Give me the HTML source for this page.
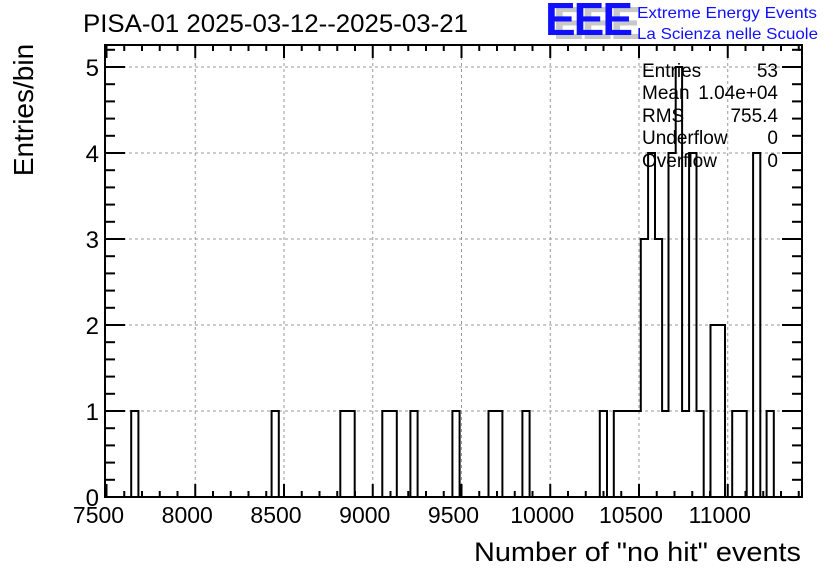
<!DOCTYPE html>
<html><head><meta charset="utf-8"><style>
html,body{margin:0;padding:0;background:#fff;}
svg{display:block;font-family:"Liberation Sans",Arial,sans-serif;}
</style></head><body>
<svg id="chart" width="836" height="572" viewBox="0 0 836 572" xmlns="http://www.w3.org/2000/svg">
<rect x="0" y="0" width="836" height="572" fill="#fff"/>
<g id="grid"></g>
<g id="hist"></g>
<g id="axes"></g>
<text x="83" y="32" font-size="25" fill="#000" textLength="385" lengthAdjust="spacingAndGlyphs">PISA-01 2025-03-12--2025-03-21</text>
<text transform="translate(33,110) rotate(-90)" text-anchor="middle" font-size="28">Entries/bin</text>
<text x="801" y="561" text-anchor="end" font-size="27" textLength="327" lengthAdjust="spacingAndGlyphs">Number of "no hit" events</text>
<g>
<text x="553" y="39" font-size="46" font-weight="bold" fill="#c8c8c8" letter-spacing="-2">EEE</text>
<text x="545" y="35" font-size="46" font-weight="bold" fill="#1010ff" letter-spacing="-2">EEE</text>
<text x="637" y="18" font-size="16" fill="#1010ff" textLength="180" lengthAdjust="spacingAndGlyphs">Extreme Energy Events</text>
<text x="637" y="39" font-size="16" fill="#1010ff" textLength="181" lengthAdjust="spacingAndGlyphs">La Scienza nelle Scuole</text>
</g>
<g font-size="19" fill="#000">
<text x="642" y="77">Entries</text><text x="778" y="77" text-anchor="end">53</text>
<text x="642" y="99">Mean</text><text x="778" y="99" text-anchor="end">1.04e+04</text>
<text x="642" y="122">RMS</text><text x="778" y="122" text-anchor="end">755.4</text>
<text x="642" y="144">Underflow</text><text x="778" y="144" text-anchor="end">0</text>
<text x="642" y="167">Overflow</text><text x="778" y="167" text-anchor="end">0</text>
</g>
</svg>
<script>
const binLow = [7639,8430,8817,8858,9054,9095,9212,9449,9652,9690,9843,10279,10358,10395,10433,10470,10510,10551,10590,10630,10666,10707,10743,10782,10824,10903,10944,11025,11066,11143,11219];
const binCounts = [1,1,1,1,1,1,1,1,1,1,1,1,1,1,1,1,3,4,3,1,4,5,1,4,1,2,2,1,1,4,1];
const binWidth = 40.5;
const xTicks = [7500,8000,8500,9000,9500,10000,10500,11000];
const yTicks = [0,1,2,3,4,5];

const L=105,R=802,T=45,B=497;
const X0=7500, PX=0.1775;
function sx(v){return 106.5+(v-X0)*PX;}
function sy(v){return 497-v*86;}
const xMax=X0+(R-106.5)/PX;
const NS="http://www.w3.org/2000/svg";
function mk(tag,attrs,parent){const e=document.createElementNS(NS,tag);for(const k in attrs)e.setAttribute(k,attrs[k]);parent.appendChild(e);return e;}
const grid=document.getElementById('grid'),hist=document.getElementById('hist'),axes=document.getElementById('axes');
xTicks.forEach(t=>{if(t<=X0)return;
 const g=mk('line',{x1:sx(t),x2:sx(t),y1:T,y2:B,stroke:'#999','stroke-dasharray':'3,3','stroke-width':1},grid);
 
 });
yTicks.forEach(t=>{if(t===0)return;
 const g=mk('line',{x1:L,x2:R,y1:sy(t),y2:sy(t),stroke:'#999','stroke-dasharray':'3,3','stroke-width':1},grid);
 
 });
// histogram step outline
let d='M'+L+','+sy(0);
let prevHi=null;
binLow.forEach((lo,i)=>{
 const next=binLow[i+1];
 const hi=(next!==undefined && next-lo<binWidth*1.5)?next:lo+binWidth;
 const y=sy(binCounts[i]);
 const adjacent=(prevHi!==null && Math.abs(prevHi-lo)<1);
 if(!adjacent) d+=' L'+sx(lo).toFixed(1)+','+sy(0);
 d+=' L'+sx(lo).toFixed(1)+','+y+' L'+sx(hi).toFixed(1)+','+y;
 const nextAdj=(next!==undefined && Math.abs(next-hi)<1);
 if(!nextAdj) d+=' L'+sx(hi).toFixed(1)+','+sy(0);
 prevHi=hi;});
d+=' L'+R+','+sy(0);
const hp=mk('path',{d:d,fill:'none',stroke:'#000','stroke-width':2},hist);


const fr=mk('rect',{x:L,y:T,width:R-L,height:B-T,fill:'none',stroke:'#000','stroke-width':2},axes);


for(let v=X0;v<=xMax;v+=100){const major=(v%500===0);const len=major?13:6;const x=sx(v);
 const t1=mk('line',{x1:x,x2:x,y1:B,y2:B-len,stroke:'#000','stroke-width':2},axes);
 
 
 const t2=mk('line',{x1:x,x2:x,y1:T,y2:T+len,stroke:'#000','stroke-width':2},axes);
 
 }
xTicks.forEach(t=>{const tx=mk('text',{x:sx(t)-8,y:523,'text-anchor':'middle','font-size':23},axes);tx.textContent=t;
 
 });
for(let k=0;k<=26;k++){const v=k*0.2;const y=sy(v);if(y<T)break;const major=(k%5===0);const len=major?20:10;
 const t1=mk('line',{x1:L,x2:L+len,y1:y,y2:y,stroke:'#000','stroke-width':2},axes);
 
 
 const t2=mk('line',{x1:R,x2:R-len,y1:y,y2:y,stroke:'#000','stroke-width':2},axes);
 
 }
yTicks.forEach(t=>{const tx=mk('text',{x:99,y:sy(t)+9,'text-anchor':'end','font-size':24},axes);tx.textContent=t;
 
 });
</script>
</body></html>
